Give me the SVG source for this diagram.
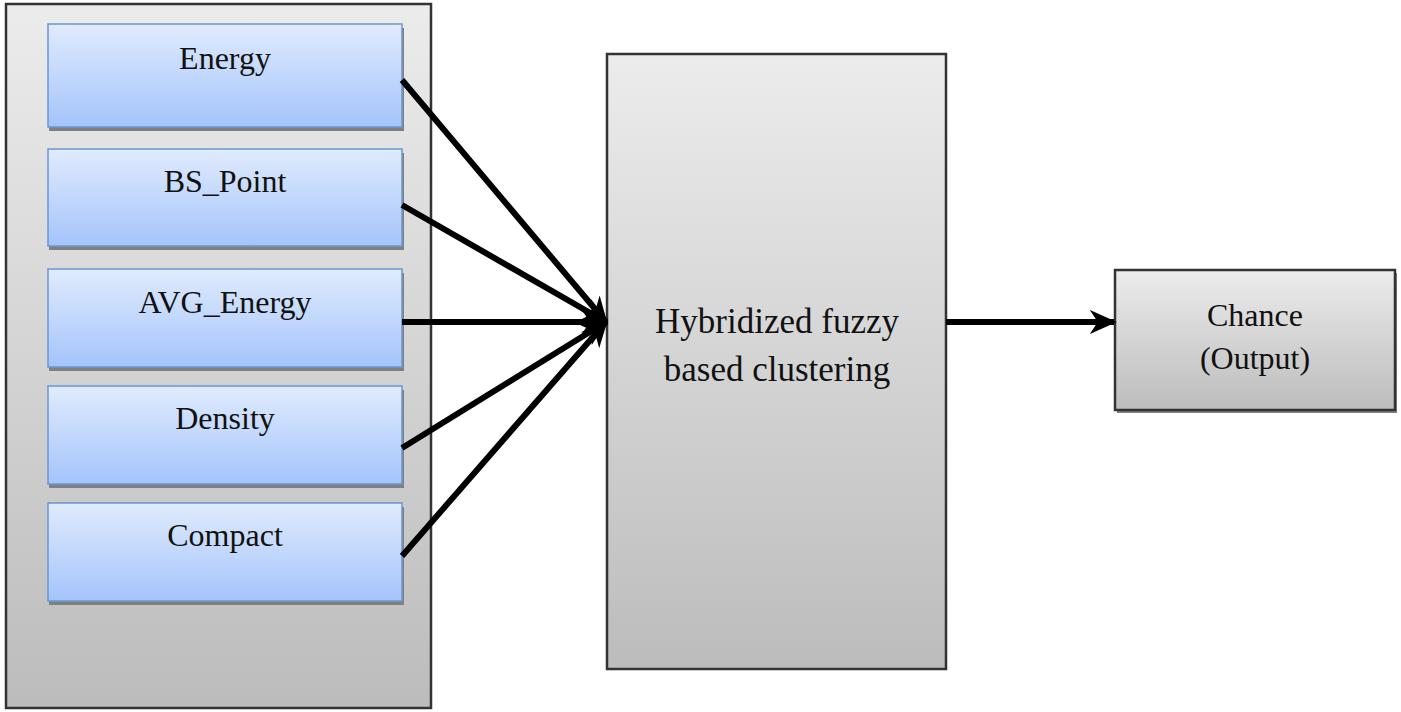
<svg xmlns="http://www.w3.org/2000/svg" width="1401" height="712" viewBox="0 0 1401 712">
<defs>
<linearGradient id="gray" x1="0" y1="0" x2="0" y2="1"><stop offset="0" stop-color="#ececec"/><stop offset="1" stop-color="#bcbcbc"/></linearGradient>
<linearGradient id="blue" x1="0" y1="0" x2="0" y2="1"><stop offset="0" stop-color="#e0ebfd"/><stop offset="1" stop-color="#a4c4fb"/></linearGradient>
<marker id="ah" viewBox="0 0 10 10" refX="9" refY="5" markerWidth="4.5" markerHeight="4.5" orient="auto" markerUnits="strokeWidth"><path d="M0,0.5 L10,5 L0,9.5 L3,5 Z" fill="#000"/></marker>
</defs>
<style>
.gbox{fill:url(#gray);stroke:#333;stroke-width:2.5}
.bbox{fill:url(#blue);stroke:#6b96d2;stroke-width:1.5}
.shadow{fill:#808080}
.t{font-family:'Liberation Serif','DejaVu Serif',serif;font-size:32px;fill:#111;text-anchor:middle}
.big{font-size:35px}
.conn line{stroke:#000;stroke-width:6}
</style>
<rect width="1401" height="712" fill="#fff"/>
<g id="container"><rect class="gbox" x="6" y="4" width="425" height="704"/></g>
<g id="energy"><rect class="shadow" x="49" y="28" width="355" height="103"/><rect class="bbox" x="48" y="24" width="354" height="103"/><text class="t" x="225" y="69">Energy</text></g>
<g id="bspoint"><rect class="shadow" x="49" y="153" width="355" height="97"/><rect class="bbox" x="48" y="149" width="354" height="97"/><text class="t" x="225" y="192">BS_Point</text></g>
<g id="avgenergy"><rect class="shadow" x="49" y="273" width="355" height="98"/><rect class="bbox" x="48" y="269" width="354" height="98"/><text class="t" x="225" y="313">AVG_Energy</text></g>
<g id="density"><rect class="shadow" x="49" y="390" width="355" height="98"/><rect class="bbox" x="48" y="386" width="354" height="98"/><text class="t" x="225" y="429">Density</text></g>
<g id="compact"><rect class="shadow" x="49" y="507" width="355" height="98"/><rect class="bbox" x="48" y="503" width="354" height="98"/><text class="t" x="225" y="546">Compact</text></g>
<g id="hybrid"><rect class="gbox" x="607" y="54" width="339" height="615"/><text class="t big" x="777" y="333">Hybridized fuzzy</text><text class="t big" x="777" y="381">based clustering</text></g>
<g id="chance"><rect class="shadow" x="1117" y="273" width="280" height="140"/><rect class="gbox" x="1115" y="270" width="280" height="140"/><text class="t" x="1255" y="326">Chance</text><text class="t" x="1255" y="369">(Output)</text></g>
<g class="conn" id="connectors">
<line x1="402" y1="80" x2="606" y2="322" marker-end="url(#ah)"/>
<line x1="402" y1="205" x2="606" y2="322" marker-end="url(#ah)"/>
<line x1="402" y1="322" x2="606" y2="322" marker-end="url(#ah)"/>
<line x1="402" y1="448" x2="606" y2="322" marker-end="url(#ah)"/>
<line x1="402" y1="556" x2="606" y2="322" marker-end="url(#ah)"/>
<line x1="946" y1="322" x2="1114" y2="322" marker-end="url(#ah)"/>
</g>
</svg>
